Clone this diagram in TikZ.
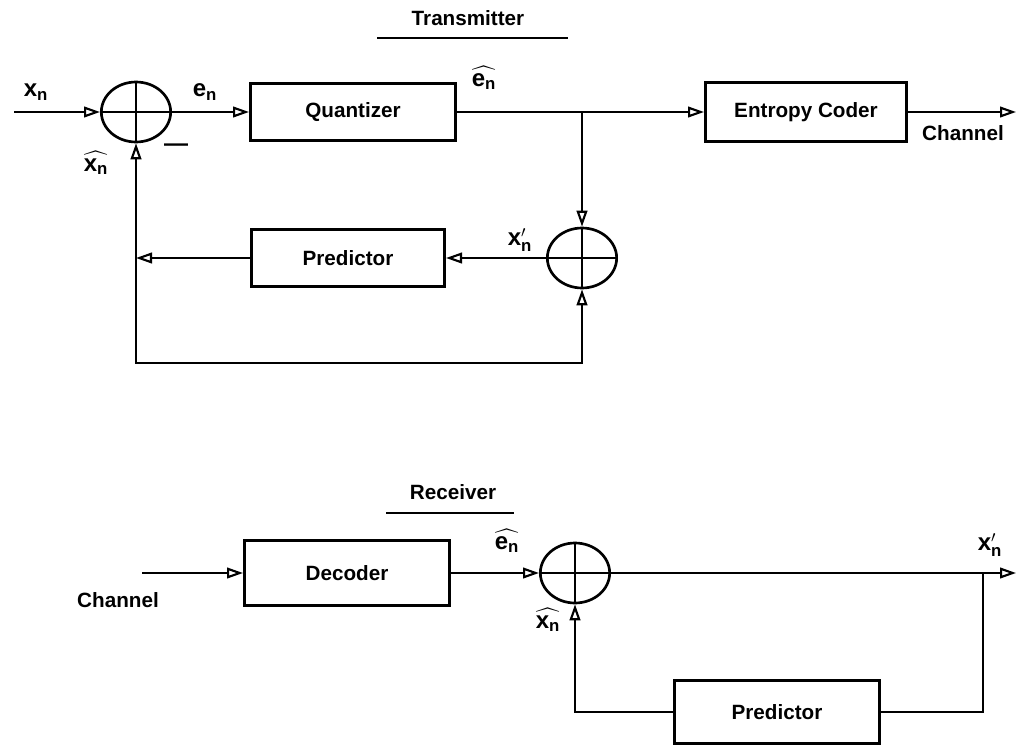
\documentclass[tikz,border=0pt]{standalone}
\usepackage{amsmath}
\usepackage{fontspec}
\setmainfont{Liberation Sans}
\usetikzlibrary{arrows.meta,shapes.geometric}
\begin{document}
\begin{tikzpicture}[x=0.75pt,y=-0.75pt,
  line width=1.9pt,
  arr/.style={-{Triangle[open,length=12pt,width=8pt,line width=1.6pt]}},
  blk/.style={draw,line width=2pt,minimum width=#1,minimum height=43pt,inner sep=0pt,font=\bfseries\fontsize{15.5}{18}\selectfont},
  summ/.style={draw,ellipse,line width=2pt,minimum width=52pt,minimum height=45pt,inner sep=0pt},
  lbl/.style={font=\bfseries\fontsize{18}{21}\selectfont,inner sep=1pt},
  ttl/.style={font=\bfseries\fontsize{15.5}{18}\selectfont}]
\useasboundingbox (0,0) rectangle (1028,749);

% ---------- Transmitter ----------
\node[ttl] (ttx) at (468,18) {Transmitter};
\coordinate (tulA) at (377,38);
\coordinate (tulB) at (568,38);
\draw (tulA) -- (tulB);

\coordinate (xin) at (14,112);
\node[summ] (s1) at (136,112) {};
\draw (s1.north) -- (s1.south);
\draw (s1.west) -- (s1.east);
\node[blk=154pt] (quant) at (353,112) {Quantizer};
\node[blk=151pt,minimum height=44pt] (ent) at (806,112) {Entropy Coder};
\coordinate (chout) at (1016,112);
\node[summ] (s2) at (582,258) {};
\draw (s2.north) -- (s2.south);
\draw (s2.west) -- (s2.east);
\node[blk=145pt] (pred1) at (348,258) {Predictor};
\coordinate (br1) at (582,112);
\coordinate (fbL) at (136,258);
\coordinate (blL) at (136,363);
\coordinate (blR) at (582,363);

\draw[arr] (xin) -- (s1.west);
\draw[arr] (s1.east) -- (quant.west);
\draw[arr] (quant.east) -- (ent.west);
\draw[arr] (ent.east) -- (chout);
\draw[arr] (br1) -- (s2.north);
\draw[arr] (s2.west) -- (pred1.east);
\draw[arr] (pred1.west) -- (fbL);
\draw[arr] (blR) -| (s1.south);
\draw[arr] (blL) -| (s2.south);

\node[lbl] (lxn) at (36,92) {$\text{x}_{\text{n}}$};
\node[lbl] (len) at (205,92) {$\text{e}_{\text{n}}$};
\node[lbl] (lxh) at (96,163) {$\widehat{\text{x}_{\text{n}}}$};
\node[lbl] (lmin) at (176,148) {---};
\node[lbl] (leh) at (484,78) {$\widehat{\text{e}_{\text{n}}}$};
\node[lbl] (lxp) at (520,240) {$\text{x}_{\text{n}}'$};
\node[ttl] (lch1) at (963,133) {Channel};

% ---------- Receiver ----------
\node[ttl] (trx) at (453,492) {Receiver};
\coordinate (rulA) at (386,513);
\coordinate (rulB) at (514,513);
\draw (rulA) -- (rulB);

\coordinate (chin) at (142,573);
\node[blk=154pt,minimum height=49pt] (dec) at (347,573) {Decoder};
\node[summ] (s3) at (575,573) {};
\draw (s3.north) -- (s3.south);
\draw (s3.west) -- (s3.east);
\coordinate (rout) at (1016,573);
\coordinate (br2) at (983,573);
\node[blk=154pt,minimum height=47pt] (pred2) at (777,712) {Predictor};

\draw[arr] (chin) -- (dec.west);
\draw[arr] (dec.east) -- (s3.west);
\draw[arr] (s3.east) -- (rout);
\draw (br2) |- (pred2.east);
\draw[arr] (pred2.west) -| (s3.south);

\node[ttl] (lch2) at (118,600) {Channel};
\node[lbl] (leh2) at (507,541) {$\widehat{\text{e}_{\text{n}}}$};
\node[lbl] (lxh2) at (548,620) {$\widehat{\text{x}_{\text{n}}}$};
\node[lbl] (lxp2) at (990,545) {$\text{x}_{\text{n}}'$};
\end{tikzpicture}
\end{document}
